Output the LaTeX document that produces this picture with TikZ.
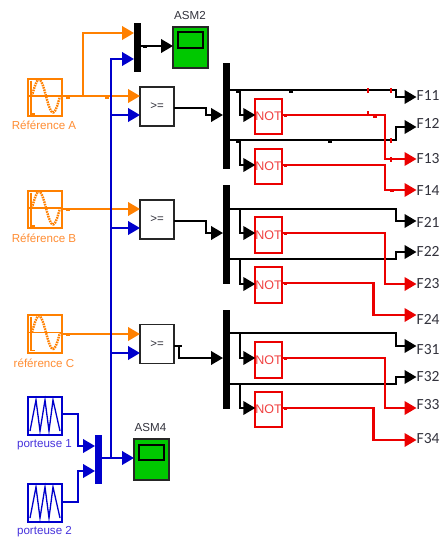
\documentclass[tikz,border=0pt]{standalone}
\usepackage{fontspec}
\setmainfont{Liberation Sans}
\newfontfamily\calfont{Carlito}
\usetikzlibrary{arrows.meta}
\definecolor{orA}{RGB}{255,128,0}
\definecolor{orT}{RGB}{255,140,50}
\definecolor{blA}{RGB}{0,0,204}
\definecolor{blT}{RGB}{70,50,220}
\definecolor{rdA}{RGB}{235,0,0}
\definecolor{grA}{RGB}{0,200,0}
\definecolor{txA}{RGB}{50,50,60}
\tikzset{
 x=1pt,y=-1pt,
 blk/.style={inner sep=0pt,outer sep=0pt,minimum width=#1,fill,draw=none},
 srcbox/.style={draw=#1,line width=1.7pt,fill=white,inner sep=0pt,outer sep=0pt,minimum width=34pt,minimum height=37.5pt},
 cmpbox/.style={draw=black!85,line width=1.6pt,fill=white,inner sep=0pt,outer sep=0pt,minimum width=34pt,minimum height=39pt,text=txA,font=\fontsize{11.5}{12}\selectfont},
 notbox/.style={draw=rdA,line width=1.8pt,fill=white,inner sep=0pt,outer sep=0pt,minimum width=23pt,minimum height=35.5pt,text=rdA!75!white,font=\fontsize{12.5}{13}\selectfont},
 scopebox/.style={draw=black!85,line width=1.6pt,fill=grA,inner sep=0pt,outer sep=0pt,minimum width=35pt,minimum height=41pt},
 scr/.style={draw=black,line width=1.6pt,fill=grA,inner sep=0pt,outer sep=0pt,minimum width=25pt,minimum height=15.5pt},
 lab/.style={inner sep=0pt,font=\fontsize{11.6}{12}\selectfont},
 flab/.style={inner sep=0pt,anchor=west,text=txA,font=\calfont\fontsize{15.5}{16}\selectfont},
 wire/.style={-{Triangle[length=12pt,width=13.5pt]}},
 owire/.style={wire,draw=orA,line width=2.3pt},
 bwire/.style={wire,draw=blA,line width=2.3pt},
 kwire/.style={wire,draw=black,line width=2.2pt},
 rwire/.style={wire,draw=rdA,line width=2.1pt},
}
\newcommand{\sineicon}[1]{%
 \begin{scope}[shift={(#1.center)}]
 \draw[orA,line width=1.6pt] (-14,-17)--(-14,16.5)--(-10,16.5);
 \draw[orA,line width=1.6pt] (-17,-1.5)--(17,-1.5);
 \draw[orA,line width=2.4pt,dash pattern=on 1.6pt off 0.9pt] plot[domain=-13:15,samples=40,smooth] (\x,{-1.5-16.5*sin((\x+13)/28*360)});
 \end{scope}}
\newcommand{\triicon}[1]{%
 \begin{scope}[shift={(#1.center)}]
 \draw[blA,line width=1.3pt] (-15,15)--(-9,-16)--(-5,15)--(0,-16)--(4,15)--(8,-16)--(15,15);
 \end{scope}}
\begin{document}
\begin{tikzpicture}
\useasboundingbox (0,0) rectangle (440,538);
% sources
\node[srcbox=orA] (refA) at (45,97.5) {};
\node[srcbox=orA] (refB) at (45,209.5) {};
\node[srcbox=orA] (refC) at (45,334) {};
\node[srcbox=blA] (porA) at (45,416) {};
\node[srcbox=blA] (porB) at (45,503) {};
\sineicon{refA}\sineicon{refB}\sineicon{refC}
\triicon{porA}\triicon{porB}
\node[lab,text=orT] (lA) at (44,125.5) {Référence A};
\node[lab,text=orT] (lB) at (44,238.5) {Référence B};
\node[lab,text=orT] (lC) at (44,363.5) {référence C};
\node[lab,text=blT] (lP) at (44.5,445) {porteuse 1};
\node[lab,text=blT] (lQ) at (44.5,532) {porteuse 2};
% muxes
\node[blk=7pt,minimum height=49pt] (m0) at (137.5,47.5) {};
\node[blk=7pt,minimum height=49pt,fill=blA] (m9) at (98.5,459.5) {};
\node[blk=7pt,minimum height=106pt,fill=black] (m1) at (226.5,116) {};
\node[blk=7pt,minimum height=99pt,fill=black] (m2) at (226.5,234.5) {};
\node[blk=7pt,minimum height=99pt,fill=black] (m3) at (226.5,359.5) {};
\fill[black] (m0.north west) rectangle (m0.south east);
% scopes
\node[scopebox] (s2) at (190.5,47.5) {};
\node[scr] (s2i) at (190.5,40) {};
\node[lab,text=txA] (t2) at (190,16) {ASM2};
\node[scopebox] (s4) at (151.5,459.5) {};
\node[scr] (s4i) at (151.5,452.5) {};
\node[lab,text=txA] (t4) at (150.5,428) {ASM4};
% comparators
\node[cmpbox] (c1) at (157,106.5) {>=};
\node[cmpbox] (c2) at (157,219.5) {>=};
\node[cmpbox] (c3) at (157,344) {>=};
% NOT
\foreach \n/\y in {n1/116.5,n2/166.5,n3/235,n4/285,n5/360,n6/409.5}
  \node[notbox] (\n) at (268.5,\y) {NOT};
% labels
\foreach \n/\t/\y in {f11/F11/96,f12/F12/123,f13/F13/159,f14/F14/191,
  f21/F21/222,f22/F22/251.5,f23/F23/284,f24/F24/319,
  f31/F31/350,f32/F32/377,f33/F33/405,f34/F34/439}
  \node[flab,xshift=4.5pt] (\n) at (412,\y) {\t};
% orange
\draw[owire] (refA.east |- 0,96) -- (c1.west |- 0,96);
\draw[owire] (83,96) -- (83,33) -- (m0.west |- 0,33);
\draw[owire] (refB.east |- 0,209) -- (c2.west |- 0,209);
\draw[owire] (refC.east |- 0,334) -- (c3.west |- 0,334);
% blue
\draw[bwire] (111,458) -- (111,59) -- (m0.west |- 0,59);
\draw[bwire] (111,115) -- (c1.west |- 0,115);
\draw[bwire] (111,228) -- (c2.west |- 0,228);
\draw[bwire] (111,353) -- (c3.west |- 0,353);
\draw[bwire] (m9.east |- 0,458) -- (s4.west |- 0,458);
\draw[bwire] (porA.east |- 0,414) -- (78,414) -- (78,446) -- (m9.west |- 0,446);
\draw[bwire] (porB.east |- 0,502) -- (78,502) -- (78,471) -- (m9.west |- 0,471);
% black
\draw[kwire] (m0.east |- 0,46) -- (s2.west |- 0,46);
\draw[kwire] (c1.east |- 0,108) -- (206,108) -- (206,115) -- (m1.west |- 0,115);
\draw[kwire] (c2.east |- 0,221) -- (206,221) -- (206,233) -- (m2.west |- 0,233);
\draw[kwire] (c3.east |- 0,346) -- (179,346) -- (179,358) -- (m3.west |- 0,358);
% group outputs
\draw[kwire] (m1.east |- 0,90) -- (396,90) -- (396,97) -- (f11.west |- 0,97);
\draw[kwire] (m1.east |- 0,140) -- (396,140) -- (396,127) -- (f12.west |- 0,127);
\draw[kwire] (240,90) -- (240,115) -- (n1.west |- 0,115);
\draw[kwire] (240,140) -- (240,165) -- (n2.west |- 0,165);
\draw[kwire] (m2.east |- 0,209) -- (396,209) -- (396,221) -- (f21.west |- 0,221);
\draw[kwire] (m2.east |- 0,259) -- (396,259) -- (396,252) -- (f22.west |- 0,252);
\draw[kwire] (240,209) -- (240,233) -- (n3.west |- 0,233);
\draw[kwire] (240,259) -- (240,284) -- (n4.west |- 0,284);
\draw[kwire] (m3.east |- 0,333) -- (396,333) -- (396,346) -- (f31.west |- 0,346);
\draw[kwire] (m3.east |- 0,384) -- (396,384) -- (396,377) -- (f32.west |- 0,377);
\draw[kwire] (240,333) -- (240,358) -- (n5.west |- 0,358);
\draw[kwire] (240,384) -- (240,408) -- (n6.west |- 0,408);
% red
\draw[rwire] (n1.east |- 0,115) -- (385,115) -- (385,159) -- (f13.west |- 0,159);
\draw[rwire] (n2.east |- 0,165) -- (385,165) -- (385,190) -- (f14.west |- 0,190);
\draw[rwire] (n3.east |- 0,233) -- (385,233) -- (385,284) -- (f23.west |- 0,284);
\draw[rwire] (n4.east |- 0,283) -- (373.5,283) -- (373.5,315) -- (f24.west |- 0,315);
\draw[rwire] (n5.east |- 0,358) -- (385,358) -- (385,408) -- (f33.west |- 0,408);
\draw[rwire] (n6.east |- 0,408) -- (373.5,408) -- (373.5,440) -- (f34.west |- 0,440);
% small marks on the wires
\foreach \x/\y in {291/92,330/142,178/108,178/221,145/47,180/346,238/92,238/142}
  \fill[black] (\x-1.8,\y-1.2) rectangle (\x+1.8,\y+1.2);
\foreach \x/\y in {107/97.5,68/97.5,68/209.5,68/334.5}
  \fill[orA] (\x-1.8,\y-1.2) rectangle (\x+1.8,\y+1.2);
\foreach \x/\y in {285.5/116,285.5/166,375/117,392/191,285.5/234,285.5/284,285.5/359,285.5/409}
  \fill[rdA] (\x-1.8,\y-1.2) rectangle (\x+1.8,\y+1.2);
\foreach \x/\y in {368/90,391/90,368/113,391/140,391/159}
  \fill[rdA] (\x-.6,\y-2.5) rectangle (\x+.6,\y+2.5);
\end{tikzpicture}
\end{document}
